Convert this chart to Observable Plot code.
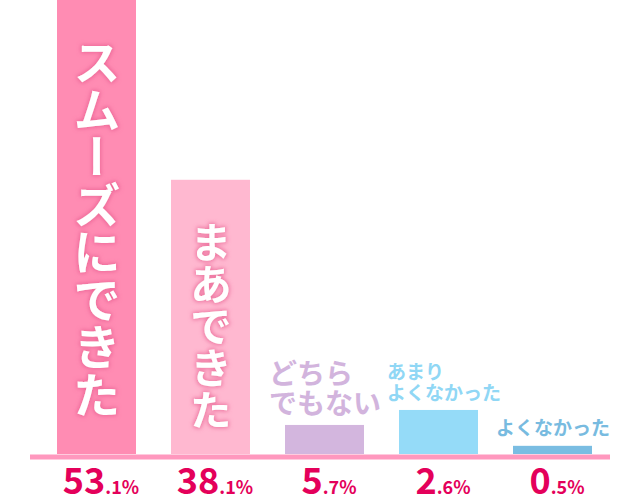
<!DOCTYPE html>
<html><head><meta charset="utf-8">
<style>html,body{margin:0;padding:0;background:#fff;} svg{display:block}</style>
<script src="https://cdn.jsdelivr.net/npm/d3@7"></script>
<script src="https://cdn.jsdelivr.net/npm/@observablehq/plot@0.6"></script>
</head><body><div id="chart"></div>
<script>
// categories (answers)
const categories = ["スムーズにできた", "まあできた", "どちらでもない", "あまりよくなかった", "よくなかった"];
// printed percentages
const percents = [53.1, 38.1, 5.7, 2.6, 0.5];
// drawn bar heights (relative to tallest bar = 100) (infographic, not to scale)
const barHeights = [100, 60.4, 6.4, 9.7, 1.8];
// label text as shown (line breaks)
const labels = ["スムーズにできた", "まあできた", "どちら\nでもない", "あまり\nよくなかった", "よくなかった"];
const barColors = ["#ff8cb3", "#ffb8d0", "#d3b6de", "#95dbf8", "#7abde2"];

const data = categories.map((c, i) => ({cat: c, pct: percents[i], h: barHeights[i], label: labels[i]}));
const jp = "'Noto Sans CJK JP', 'Noto Sans', sans-serif";

const chart = Plot.plot({
  width: 640,
  height: 501,
  marginTop: 0,
  marginBottom: 47,
  marginLeft: 30,
  marginRight: 30,
  style: {fontFamily: jp, background: "#fff"},
  x: {type: "band", domain: categories, range: [30, 618], paddingInner: 0.3085, paddingOuter: 0.2276, axis: null},
  y: {domain: [0, 100], axis: null},
  color: {domain: categories, range: barColors},
  marks: [
    Plot.barY(data, {x: "cat", y: "h", fill: "cat"}),
    Plot.ruleY([0], {stroke: "#ff98be", strokeWidth: 5, dy: 2.5}),
    // vertical labels inside the two big bars
    Plot.text(data, {filter: d => d.cat === categories[0], x: "cat", y: "h", text: "label", fill: "white",
      fontSize: 47.5, fontWeight: "bold", textAnchor: "start", dy: 38}),
    Plot.text(data, {filter: d => d.cat === categories[1], x: "cat", y: "h", text: "label", fill: "white",
      fontSize: 42, fontWeight: "bold", textAnchor: "start", dy: 41}),
    // labels above small bars
    Plot.text(data, {filter: d => d.cat === categories[2], x: "cat", y: "h", text: "label", fill: "#d2b4dd",
      fontSize: 28, fontWeight: "bold", textAnchor: "start", lineAnchor: "bottom", lineHeight: 1.1, dx: -56, dy: -11}),
    Plot.text(data, {filter: d => d.cat === categories[3], x: "cat", y: "h", text: "label", fill: "#90d7f5",
      fontSize: 19, fontWeight: "bold", textAnchor: "start", lineAnchor: "bottom", lineHeight: 1.15, dx: -52, dy: -10}),
    Plot.text(data, {filter: d => d.cat === categories[4], x: "cat", y: "h", text: "label", fill: "#78bbe0",
      fontSize: 19, fontWeight: "bold", textAnchor: "middle", lineAnchor: "bottom", dy: -11}),
    // percentages under the baseline
    Plot.text(data, {x: "cat", frameAnchor: "bottom", text: d => d.pct.toFixed(1) + "%", fill: "#e4005a",
      fontSize: 36, fontWeight: "bold", textAnchor: "middle", lineAnchor: "top", dx: 4, dy: 14})
  ]
});

const svg = d3.select(chart);
const defs = svg.insert("defs", ":first-child");
const f = defs.append("filter").attr("id", "glow").attr("filterUnits", "userSpaceOnUse")
  .attr("x", -1000).attr("y", -1000).attr("width", 3000).attr("height", 3000);
f.append("feMorphology").attr("in", "SourceAlpha").attr("operator", "dilate").attr("radius", 1).attr("result", "d");
f.append("feGaussianBlur").attr("in", "d").attr("stdDeviation", 2.2).attr("result", "b");
f.append("feFlood").attr("flood-color", "#e6578c").attr("flood-opacity", 0.7);
f.append("feComposite").attr("in2", "b").attr("operator", "in").attr("result", "s");
const m = f.append("feMerge");
m.append("feMergeNode").attr("in", "s");
m.append("feMergeNode").attr("in", "SourceGraphic");

svg.selectAll("text")
  .filter(function() { return this.textContent === categories[0] || this.textContent === categories[1]; })
  .attr("y", null)
  .style("writing-mode", "vertical-rl")
  .attr("filter", "url(#glow)");

svg.selectAll("text")
  .filter(function() { return /^\d+\.\d%$/.test(this.textContent); })
  .each(function() {
    const t = this.textContent;
    const k = t.indexOf(".");
    const sel = d3.select(this);
    sel.text(null);
    sel.append("tspan").text(t.slice(0, k));
    sel.append("tspan").attr("font-size", 18).text(t.slice(k));
  });

document.getElementById("chart").appendChild(chart);
</script>
</body></html>
